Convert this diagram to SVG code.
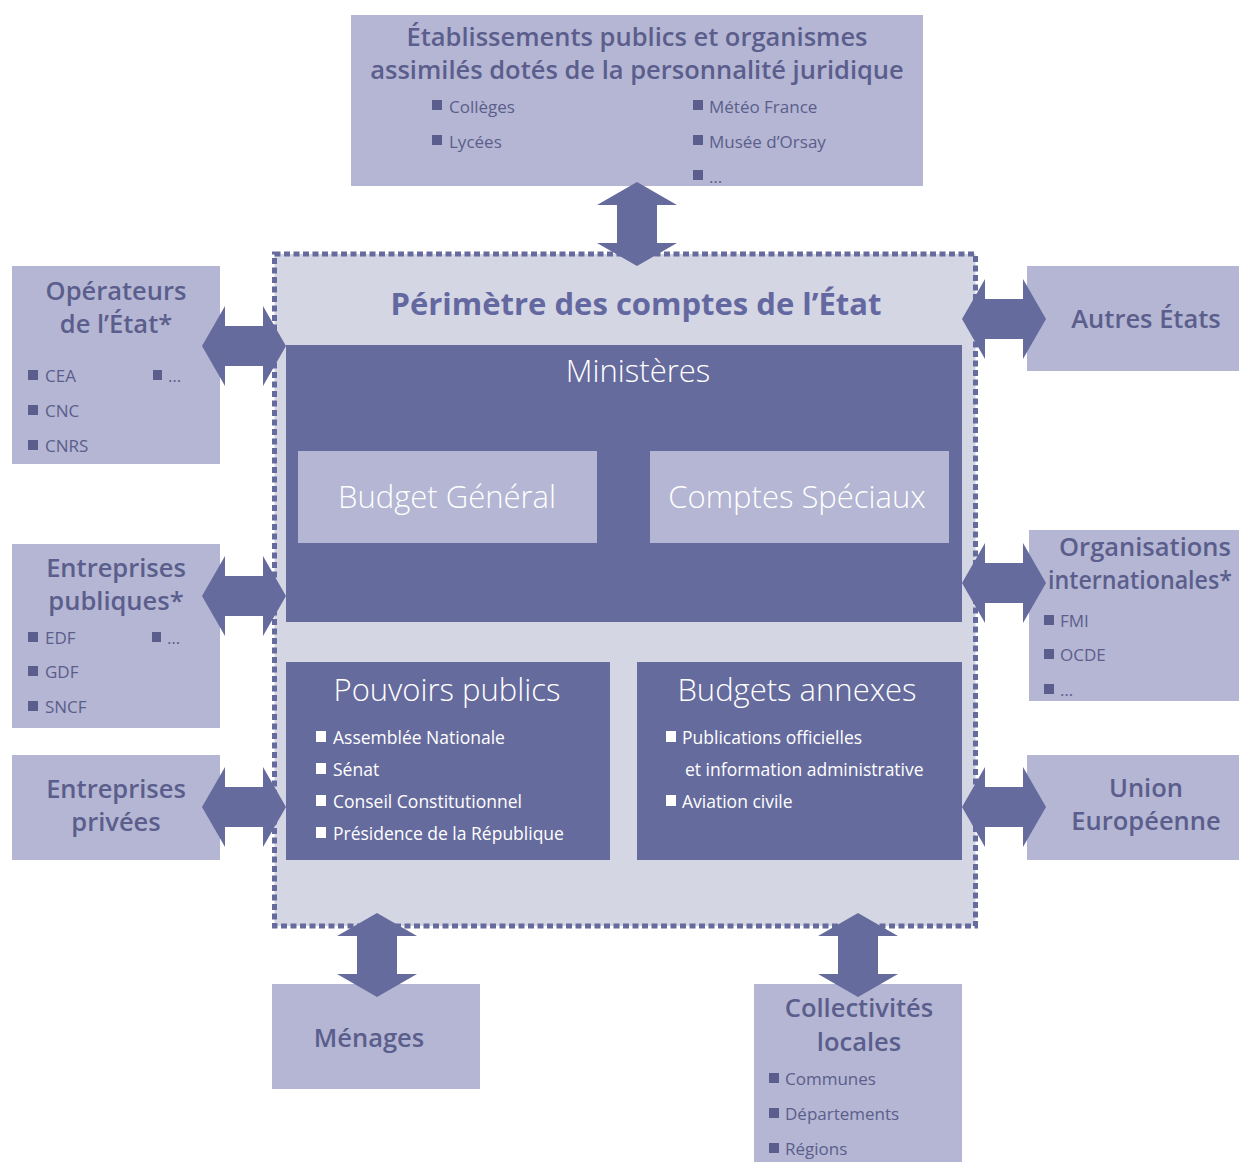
<svg xmlns="http://www.w3.org/2000/svg" width="1239" height="1162" viewBox="0 0 1239 1162">
<defs>
<style>
.lb{fill:#b4b6d3}
.db{fill:#666b9d}
.ttl{font-family:"Open Sans","Liberation Sans",sans-serif;font-size:25.5px;fill:#5b5e8c;text-anchor:middle;font-weight:600}
.li{font-family:"Open Sans","Liberation Sans",sans-serif;font-size:17px;fill:#5b5e8c}
.wt{font-family:"Open Sans","Liberation Sans",sans-serif;font-size:31px;fill:#ffffff;text-anchor:middle;font-weight:300}
.wl{font-family:"Open Sans","Liberation Sans",sans-serif;font-size:17.5px;fill:#ffffff}
.bq{fill:#5b5e8c}
.wq{fill:#ffffff}
.arr{fill:#666b9d}
</style>
<path id="dar" d="M-42,0 L-19,-40 L-19,-20 L19,-20 L19,-40 L42,0 L19,40 L19,20 L-19,20 L-19,40 Z"/>
</defs>
<rect width="1239" height="1162" fill="#ffffff"/>

<g id="perimetre">
<rect x="274.5" y="254" width="701" height="672" fill="#d4d6e4" stroke="#666b9d" stroke-width="5" stroke-dasharray="6 3.5"/>
<text x="636" y="315" style="font-family:'Open Sans','Liberation Sans',sans-serif;font-size:31px;font-weight:700;fill:#6468a0;text-anchor:middle">Périmètre des comptes de l’État</text>
</g>

<g id="ministeres">
<rect class="db" x="286" y="345" width="676" height="277"/>
<text class="wt" x="638" y="382">Ministères</text>
</g>
<g id="budget-general">
<rect class="lb" x="298" y="451" width="299" height="92"/>
<text class="wt" x="447" y="508">Budget Général</text>
</g>
<g id="comptes-speciaux">
<rect class="lb" x="650" y="451" width="299" height="92"/>
<text class="wt" x="797" y="508">Comptes Spéciaux</text>
</g>

<g id="pouvoirs-publics">
<rect class="db" x="286" y="662" width="324" height="198"/>
<text class="wt" x="447" y="701">Pouvoirs publics</text>
<rect class="wq" x="316" y="731" width="10" height="11"/><text class="wl" x="333" y="744">Assemblée Nationale</text>
<rect class="wq" x="316" y="763" width="10" height="11"/><text class="wl" x="333" y="776">Sénat</text>
<rect class="wq" x="316" y="795" width="10" height="11"/><text class="wl" x="333" y="808">Conseil Constitutionnel</text>
<rect class="wq" x="316" y="827" width="10" height="11"/><text class="wl" x="333" y="840">Présidence de la République</text>
</g>

<g id="budgets-annexes">
<rect class="db" x="637" y="662" width="325" height="198"/>
<text class="wt" x="797" y="701">Budgets annexes</text>
<rect class="wq" x="666" y="731" width="10" height="11"/><text class="wl" x="682" y="744">Publications officielles</text>
<text class="wl" x="685" y="776">et information administrative</text>
<rect class="wq" x="666" y="795" width="10" height="11"/><text class="wl" x="682" y="808">Aviation civile</text>
</g>

<g id="etablissements">
<rect class="lb" x="351" y="15" width="572" height="171"/>
<text class="ttl" x="637" y="46">Établissements publics et organismes</text>
<text class="ttl" x="637" y="79">assimilés dotés de la personnalité juridique</text>
<rect class="bq" x="432" y="100" width="10" height="10"/><text class="li" x="449" y="113">Collèges</text>
<rect class="bq" x="432" y="135" width="10" height="10"/><text class="li" x="449" y="148">Lycées</text>
<rect class="bq" x="693" y="100" width="10" height="10"/><text class="li" x="709" y="113">Météo France</text>
<rect class="bq" x="693" y="135" width="10" height="10"/><text class="li" x="709" y="148">Musée d’Orsay</text>
<rect class="bq" x="693" y="170" width="10" height="10"/><text class="li" x="709" y="183">…</text>
</g>

<g id="operateurs">
<rect class="lb" x="12" y="266" width="208" height="198"/>
<text class="ttl" x="116" y="300">Opérateurs</text>
<text class="ttl" x="116" y="333">de l’État*</text>
<rect class="bq" x="28" y="370" width="10" height="10"/><text class="li" x="45" y="382">CEA</text>
<rect class="bq" x="28" y="405" width="10" height="10"/><text class="li" x="45" y="417">CNC</text>
<rect class="bq" x="28" y="440" width="10" height="10"/><text class="li" x="45" y="452">CNRS</text>
<rect class="bq" x="153" y="370" width="9" height="10"/><text class="li" x="168" y="382">…</text>
</g>

<g id="entreprises-publiques">
<rect class="lb" x="12" y="544" width="208" height="184"/>
<text class="ttl" x="116" y="577">Entreprises</text>
<text class="ttl" x="116" y="610">publiques*</text>
<rect class="bq" x="28" y="632" width="10" height="10"/><text class="li" x="45" y="644">EDF</text>
<rect class="bq" x="28" y="666" width="10" height="10"/><text class="li" x="45" y="678">GDF</text>
<rect class="bq" x="28" y="701" width="10" height="10"/><text class="li" x="45" y="713">SNCF</text>
<rect class="bq" x="152" y="632" width="9" height="10"/><text class="li" x="167" y="644">…</text>
</g>

<g id="entreprises-privees">
<rect class="lb" x="12" y="755" width="208" height="105"/>
<text class="ttl" x="116" y="798">Entreprises</text>
<text class="ttl" x="116" y="831">privées</text>
</g>

<g id="autres-etats">
<rect class="lb" x="1027" y="266" width="212" height="105"/>
<text class="ttl" x="1146" y="328">Autres États</text>
</g>

<g id="organisations-internationales">
<rect class="lb" x="1029" y="530" width="210" height="171"/>
<text class="ttl" x="1145" y="556">Organisations</text>
<text class="ttl" x="1140" y="589" textLength="184" lengthAdjust="spacingAndGlyphs">internationales*</text>
<rect class="bq" x="1044" y="615" width="10" height="10"/><text class="li" x="1060" y="627">FMI</text>
<rect class="bq" x="1044" y="649" width="10" height="10"/><text class="li" x="1060" y="661">OCDE</text>
<rect class="bq" x="1044" y="684" width="10" height="10"/><text class="li" x="1060" y="696">…</text>
</g>

<g id="union-europeenne">
<rect class="lb" x="1027" y="755" width="212" height="105"/>
<text class="ttl" x="1146" y="797">Union</text>
<text class="ttl" x="1146" y="830">Européenne</text>
</g>

<g id="menages">
<rect class="lb" x="272" y="984" width="208" height="105"/>
<text class="ttl" x="369" y="1047">Ménages</text>
</g>

<g id="collectivites-locales">
<rect class="lb" x="754" y="984" width="208" height="178"/>
<text class="ttl" x="859" y="1017">Collectivités</text>
<text class="ttl" x="859" y="1051">locales</text>
<rect class="bq" x="769" y="1073" width="10" height="10"/><text class="li" x="785" y="1085">Communes</text>
<rect class="bq" x="769" y="1108" width="10" height="10"/><text class="li" x="785" y="1120">Départements</text>
<rect class="bq" x="769" y="1143" width="10" height="10"/><text class="li" x="785" y="1155">Régions</text>
</g>

<g id="connectors" class="arr">
<use href="#dar" transform="translate(637,224) rotate(90)"/>
<use href="#dar" transform="translate(244,346)"/>
<use href="#dar" transform="translate(244,596)"/>
<use href="#dar" transform="translate(244,807)"/>
<use href="#dar" transform="translate(1004,319)"/>
<use href="#dar" transform="translate(1004,583)"/>
<use href="#dar" transform="translate(1004,807)"/>
<use href="#dar" transform="translate(377,955) rotate(90)"/>
<use href="#dar" transform="translate(858,955) rotate(90)"/>
</g>
</svg>
